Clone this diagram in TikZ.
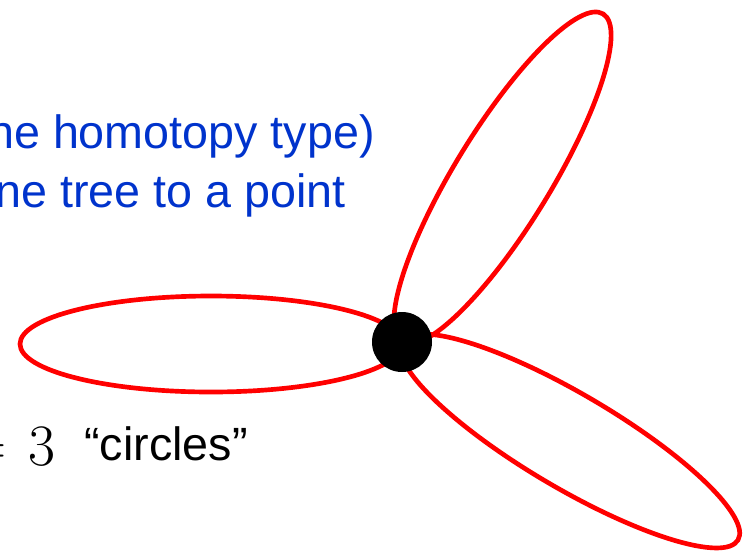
\documentclass[tikz,border=0pt]{standalone}
\usepackage{fontspec}
\setmainfont{Liberation Sans}
\newfontfamily\lmfont{Latin Modern Roman}
\definecolor{txtblue}{RGB}{0,51,204}
\begin{document}
\begin{tikzpicture}[x=0.75pt,y=-0.75pt,
  loop/.style={draw=red,line width=3.5pt},
  bluetxt/.style={text=txtblue,font=\fontsize{35}{42}\selectfont,inner sep=0pt},
  blacktxt/.style={text=black,font=\fontsize{35}{42}\selectfont,inner sep=0pt}]
\useasboundingbox (0,0) rectangle (745,551);
% loops
\draw[loop] (211,344) ellipse [x radius=191, y radius=48];
\draw[loop,rotate around={58.5:(502.5,178)}] (502.5,178) ellipse [x radius=192.5, y radius=48];
\draw[loop,rotate around={-30.5:(570,441)}] (570,441) ellipse [x radius=195, y radius=47];
% hub
\node[circle,fill=black,minimum size=45pt,inner sep=0pt] (hub) at (402,342) {};
% texts
\node[bluetxt,anchor=base east] (l1) at (375,148) {ne homotopy type)};
\node[bluetxt,anchor=base east] (l2) at (346,207) {ne tree to a point};
\node[blacktxt,anchor=base east,font=\lmfont\fontsize{44}{50}\selectfont] (three) at (56,465) {=\hspace{0.38em}3};
\node[blacktxt,anchor=base west] (circ) at (84,460) {“circles”};
\end{tikzpicture}
\end{document}
